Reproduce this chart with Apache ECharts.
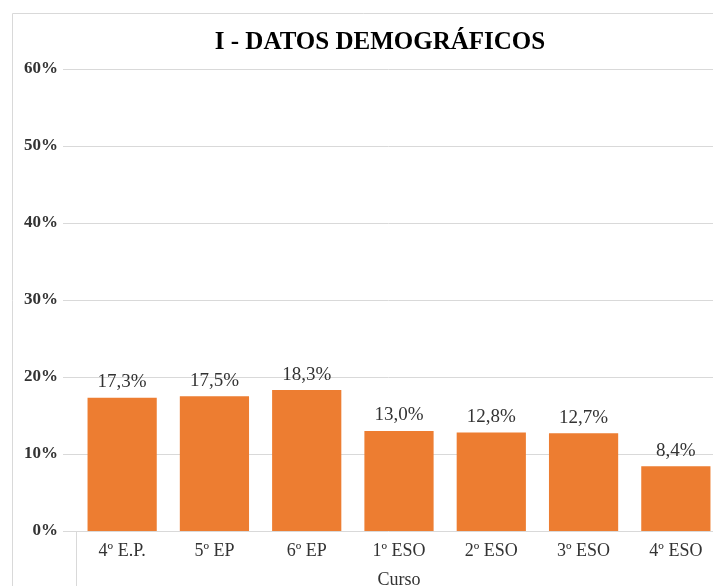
<!DOCTYPE html>
<html><head><meta charset="utf-8">
<script src="https://cdn.jsdelivr.net/npm/echarts@6/dist/echarts.min.js"></script>
<style>html,body{margin:0;padding:0;background:#fff}#c{width:713px;height:586px}</style>
</head><body><div id="c"></div>
<script>
const categories = ['4º E.P.', '5º EP', '6º EP', '1º ESO', '2º ESO', '3º ESO', '4º ESO'];
const values = [17.3, 17.5, 18.3, 13.0, 12.8, 12.7, 8.4];
const yTicks = {min: 0, max: 60, interval: 10};
const titleText = 'I - DATOS DEMOGRÁFICOS';
const axisName = 'Curso';

const serif = '"Liberation Serif", "DejaVu Serif", serif';
const chart = echarts.init(document.getElementById('c'));
chart.setOption({
  animation: false,
  title: {text: titleText, left: 375, top: 25, textAlign: 'center',
    textStyle: {fontFamily: serif, fontWeight: 'bold', fontSize: 25, color: '#000'}},
  graphic: [
    {type: 'polyline', shape: {points: [[12.5, 600], [12.5, 13.5], [720, 13.5]]},
      style: {stroke: '#d9d9d9', lineWidth: 1, fill: null}, silent: true},
    {type: 'line', shape: {x1: 76.5, y1: 531, x2: 76.5, y2: 590},
      style: {stroke: '#d9d9d9', lineWidth: 1}, silent: true}
  ],
  grid: [
    {left: 63, right: -9, top: 69, bottom: 55, outerBoundsMode: 'none', containLabel: false},
    {left: 76, right: -9, top: 69, bottom: 55, outerBoundsMode: 'none', containLabel: false}
  ],
  xAxis: [
    {type: 'value', gridIndex: 0, show: false, min: 0, max: 1},
    {type: 'category', gridIndex: 1, data: categories,
      axisLine: {show: false}, axisTick: {show: false},
      axisLabel: {margin: 11, fontFamily: serif, fontSize: 18, color: '#333'},
      name: axisName, nameLocation: 'middle', nameGap: 40,
      nameTextStyle: {fontFamily: serif, fontSize: 18, color: '#333'}}
  ],
  yAxis: [
    {type: 'value', gridIndex: 0, min: yTicks.min, max: yTicks.max, interval: yTicks.interval,
      axisLine: {show: false}, axisTick: {show: false},
      splitLine: {lineStyle: {color: '#d9d9d9', width: 1}},
      axisLabel: {formatter: '{value}%', margin: 5, fontFamily: serif, fontWeight: 'bold', fontSize: 17, color: '#333'}},
    {type: 'value', gridIndex: 1, min: yTicks.min, max: yTicks.max, interval: yTicks.interval, show: false}
  ],
  series: [{
    type: 'bar', xAxisIndex: 1, yAxisIndex: 1, data: values,
    barCategoryGap: '25%',
    itemStyle: {color: '#ED7D31'},
    label: {show: true, position: 'top', distance: 6,
      formatter: p => p.value.toFixed(1).replace('.', ',') + '%',
      fontFamily: serif, fontSize: 19, color: '#333'}
  }]
});
</script></body></html>
